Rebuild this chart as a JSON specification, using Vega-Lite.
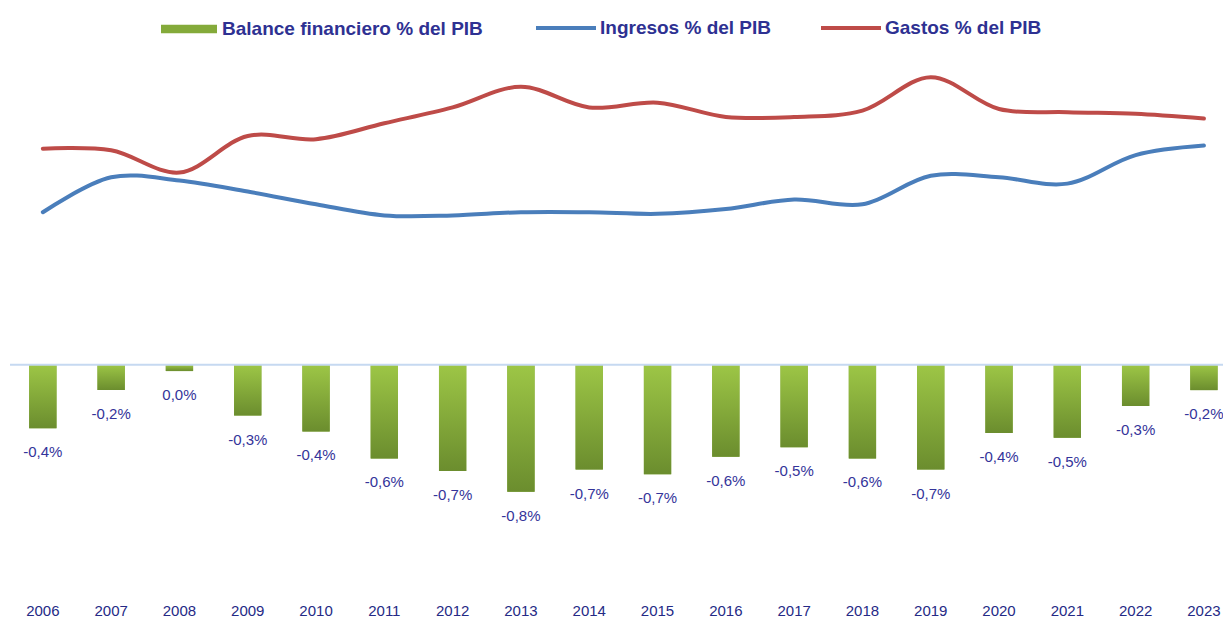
{
  "$schema": "https://vega.github.io/schema/vega-lite/v6.json",
  "autosize": {"type": "none"},
  "width": 1213,
  "height": 540,
  "padding": {"left": 10, "top": 55, "right": 0, "bottom": 24},
  "background": "white",
  "config": {
    "view": {"stroke": null},
    "font": "Liberation Sans",
    "axis": {
      "title": null,
      "ticks": false,
      "domain": false,
      "grid": false,
      "labelAngle": 0,
      "labelFontSize": 15,
      "labelFontWeight": "normal",
      "labelColor": "#252A86",
      "labelPadding": 8
    },
    "locale": {"number": {"decimal": ",", "thousands": ".", "grouping": [3], "currency": ["", "€"], "minus": "-"}}
  },
  "datasets": {
    "balance": [
      {"año": "2006", "valor": -0.0040},
      {"año": "2007", "valor": -0.0016},
      {"año": "2008", "valor": -0.0004},
      {"año": "2009", "valor": -0.0032},
      {"año": "2010", "valor": -0.0042},
      {"año": "2011", "valor": -0.0059},
      {"año": "2012", "valor": -0.0067},
      {"año": "2013", "valor": -0.0080},
      {"año": "2014", "valor": -0.0066},
      {"año": "2015", "valor": -0.0069},
      {"año": "2016", "valor": -0.0058},
      {"año": "2017", "valor": -0.0052},
      {"año": "2018", "valor": -0.0059},
      {"año": "2019", "valor": -0.0066},
      {"año": "2020", "valor": -0.0043},
      {"año": "2021", "valor": -0.0046},
      {"año": "2022", "valor": -0.0026},
      {"año": "2023", "valor": -0.0016}
    ],
    "lineas": [
      {"año": "2006", "serie": "Ingresos % del PIB", "valor": 11.01},
      {"año": "2007", "serie": "Ingresos % del PIB", "valor": 11.23},
      {"año": "2008", "serie": "Ingresos % del PIB", "valor": 11.21},
      {"año": "2009", "serie": "Ingresos % del PIB", "valor": 11.14},
      {"año": "2010", "serie": "Ingresos % del PIB", "valor": 11.06},
      {"año": "2011", "serie": "Ingresos % del PIB", "valor": 10.99},
      {"año": "2012", "serie": "Ingresos % del PIB", "valor": 10.99},
      {"año": "2013", "serie": "Ingresos % del PIB", "valor": 11.01},
      {"año": "2014", "serie": "Ingresos % del PIB", "valor": 11.01},
      {"año": "2015", "serie": "Ingresos % del PIB", "valor": 11.00},
      {"año": "2016", "serie": "Ingresos % del PIB", "valor": 11.03},
      {"año": "2017", "serie": "Ingresos % del PIB", "valor": 11.09},
      {"año": "2018", "serie": "Ingresos % del PIB", "valor": 11.06},
      {"año": "2019", "serie": "Ingresos % del PIB", "valor": 11.24},
      {"año": "2020", "serie": "Ingresos % del PIB", "valor": 11.23},
      {"año": "2021", "serie": "Ingresos % del PIB", "valor": 11.19},
      {"año": "2022", "serie": "Ingresos % del PIB", "valor": 11.37},
      {"año": "2023", "serie": "Ingresos % del PIB", "valor": 11.43},
      {"año": "2006", "serie": "Gastos % del PIB", "valor": 11.41},
      {"año": "2007", "serie": "Gastos % del PIB", "valor": 11.40},
      {"año": "2008", "serie": "Gastos % del PIB", "valor": 11.26},
      {"año": "2009", "serie": "Gastos % del PIB", "valor": 11.49},
      {"año": "2010", "serie": "Gastos % del PIB", "valor": 11.47},
      {"año": "2011", "serie": "Gastos % del PIB", "valor": 11.57},
      {"año": "2012", "serie": "Gastos % del PIB", "valor": 11.67},
      {"año": "2013", "serie": "Gastos % del PIB", "valor": 11.80},
      {"año": "2014", "serie": "Gastos % del PIB", "valor": 11.67},
      {"año": "2015", "serie": "Gastos % del PIB", "valor": 11.70},
      {"año": "2016", "serie": "Gastos % del PIB", "valor": 11.61},
      {"año": "2017", "serie": "Gastos % del PIB", "valor": 11.61},
      {"año": "2018", "serie": "Gastos % del PIB", "valor": 11.65},
      {"año": "2019", "serie": "Gastos % del PIB", "valor": 11.86},
      {"año": "2020", "serie": "Gastos % del PIB", "valor": 11.66},
      {"año": "2021", "serie": "Gastos % del PIB", "valor": 11.64},
      {"año": "2022", "serie": "Gastos % del PIB", "valor": 11.63},
      {"año": "2023", "serie": "Gastos % del PIB", "valor": 11.60}
    ]
  },
  "layer": [
    {
      "layer": [
        {
          "data": {"name": "balance"},
          "mark": {"type": "bar"},
          "encoding": {
            "x": {
              "field": "año",
              "type": "ordinal",
              "scale": {"paddingInner": 0.6, "paddingOuter": 0.18, "align": 0.78},
              "axis": {"orient": "bottom"}
            },
            "y": {
              "field": "valor",
              "type": "quantitative",
              "scale": {"domain": [-0.0145, 0.0195], "nice": false, "zero": false},
              "axis": null
            },
            "fill": {
              "datum": "Balance financiero % del PIB",
              "type": "nominal",
              "scale": {"range": ["#84AA3A"]},
              "legend": {
                "orient": "none",
                "legendX": 151,
                "legendY": -54,
                "title": null,
                "symbolType": "M-1,-0.15H1V0.15H-1Z",
                "symbolSize": 3136,
                "symbolStrokeWidth": 0,
                "labelFontSize": 19,
                "labelFontWeight": "bold",
                "labelColor": "#2E3192",
                "labelOffset": 5,
                "padding": 0,
                "labelLimit": 400
              }
            }
          }
        },
        {
          "data": {"name": "balance"},
          "mark": {
            "type": "bar",
            "fill": {"gradient": "linear", "x1": 0, "y1": 0, "x2": 0, "y2": 1,
                     "stops": [{"offset": 0, "color": "#9DC646"}, {"offset": 1, "color": "#6B8D2E"}]}
          },
          "encoding": {
            "x": {"field": "año", "type": "ordinal", "axis": {"orient": "bottom"}},
            "y": {"field": "valor", "type": "quantitative", "axis": null}
          }
        },
        {
          "data": {"values": [{"cero": 0}]},
          "mark": {"type": "rule", "color": "#C6D9F1", "strokeWidth": 2},
          "encoding": {"y": {"field": "cero", "type": "quantitative", "axis": null}}
        },
        {
          "data": {"name": "balance"},
          "mark": {"type": "text", "baseline": "middle", "dy": 24, "fontSize": 15, "color": "#34349A"},
          "encoding": {
            "x": {"field": "año", "type": "ordinal", "axis": {"orient": "bottom"}},
            "y": {"field": "valor", "type": "quantitative", "axis": null},
            "text": {"field": "valor", "type": "quantitative", "format": ".1%"}
          }
        }
      ]
    },
    {
      "data": {"name": "lineas"},
      "mark": {"type": "line", "interpolate": "catmull-rom", "strokeWidth": 4, "strokeCap": "round"},
      "encoding": {
        "x": {"field": "año", "type": "ordinal", "axis": {"orient": "bottom"}},
        "y": {
          "field": "valor",
          "type": "quantitative",
          "scale": {"domain": [8.6, 12.0], "nice": false, "zero": false},
          "axis": null
        },
        "stroke": {
          "field": "serie",
          "type": "nominal",
          "scale": {"domain": ["Ingresos % del PIB", "Gastos % del PIB"], "range": ["#4A7EBB", "#BE4B48"]},
          "legend": {
            "orient": "none",
            "legendX": 524,
            "legendY": -59,
            "direction": "horizontal",
            "title": null,
            "symbolType": "stroke",
            "symbolSize": 3600,
            "symbolStrokeWidth": 4,
            "labelFontSize": 19,
            "labelFontWeight": "bold",
            "labelColor": "#2E3192",
            "labelOffset": 2,
            "columnPadding": 41,
            "padding": 0,
            "labelLimit": 400
          }
        }
      }
    }
  ],
  "resolve": {"scale": {"y": "independent"}}
}
